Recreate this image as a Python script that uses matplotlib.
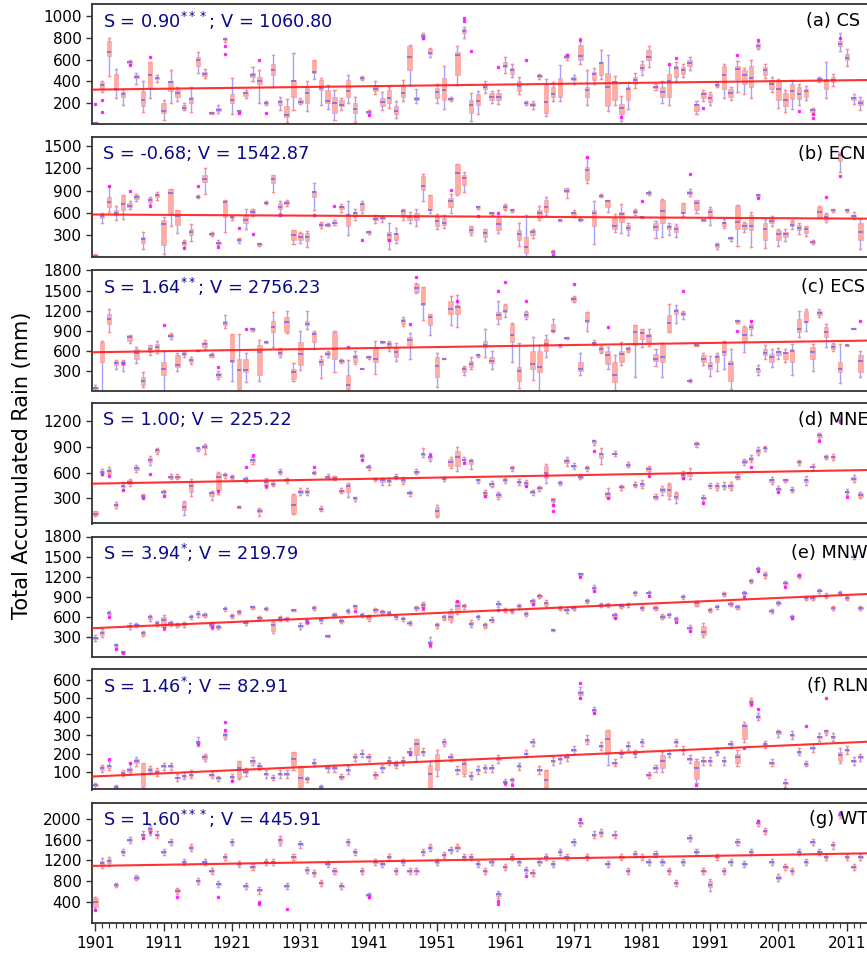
import numpy as np
import matplotlib
matplotlib.use("Agg")
import matplotlib.pyplot as plt

years = list(range(1901, 2014))

# yearly box summaries: (whisker low, q1, median, q3, whisker high)
cs_boxes = [
    (10,15,20,25,30),(300,330,370,390,400),(450,630,670,770,800),(250,320,330,470,510),(180,260,280,300,330),
    (560,570,580,590,600),(380,430,440,460,480),(120,170,230,310,400),(250,340,460,580,580),(390,420,430,440,460),
    (50,110,130,200,230),(200,310,390,400,500),(220,260,290,320,350),(140,150,160,180,200),(120,200,240,260,350),
    (480,540,600,620,670),(430,450,470,490,510),(100,105,110,115,120),(110,130,140,160,180),(760,780,785,790,800),
    (100,200,230,280,430),(120,125,130,135,140),(250,270,290,300,320),(400,440,460,480,530),(200,380,400,440,500),
    (180,190,200,210,220),(350,460,500,560,640),(140,180,210,230,260),(30,70,90,170,240),(140,260,400,410,660),
    (190,200,210,230,250),(130,200,290,340,400),(420,480,490,600,600),(180,320,340,410,430),(150,200,220,320,370),
    (50,110,200,260,320),(140,170,180,230,250),(200,260,310,410,460),(30,110,150,200,260),(410,420,430,440,450),
    (100,110,120,130,140),(280,310,330,370,400),(140,170,210,250,300),(160,200,250,320,350),(60,100,130,170,220),
    (220,260,290,370,410),(370,500,620,720,730),(200,230,240,260,330),(790,810,820,830,840),(620,650,660,700,710),
    (200,250,300,340,380),(150,230,320,430,540),(220,230,240,250,260),(370,460,640,670,720),(800,840,860,880,900),
    (40,110,180,230,290),(100,180,220,280,310),(290,330,350,380,400),(200,230,260,290,310),(190,230,260,290,320),
    (480,530,540,580,620),(440,470,500,520,560),(280,310,360,400,440),(180,190,200,210,220),(150,170,180,200,220),
    (420,440,450,460,470),(80,110,210,370,420),(220,260,280,350,390),(220,260,380,430,550),(600,610,620,640,650),
    (380,410,420,440,460),(560,600,630,730,800),(180,260,320,350,500),(380,410,470,490,520),(420,460,570,580,690),
    (130,170,350,480,640),(180,230,390,400,450),(40,100,160,190,270),(150,230,330,350,390),(340,380,410,440,480),
    (460,500,520,560,590),(530,600,620,690,720),(320,340,350,360,380),(200,260,300,350,400),(180,260,400,470,550),
    (400,440,520,540,580),(440,470,500,530,560),(500,540,570,600,620),(100,130,180,190,220),(220,250,280,300,320),
    (180,210,250,280,300),(350,360,370,380,390),(250,330,460,540,560),(230,260,290,330,350),(300,420,510,540,590),
    (280,380,460,500,520),(250,350,430,540,600),(700,710,725,740,760),(430,460,500,530,560),(300,330,380,410,440),
    (160,230,330,400,420),(120,170,230,290,320),(150,240,310,380,410),(180,240,280,350,380),(230,260,310,330,360),
    (100,120,135,150,160),(390,410,420,430,440),(250,330,400,420,580),(360,390,410,440,470),(680,720,740,770,840),
    (540,600,610,650,700),(190,230,245,260,280),(140,180,200,230,260),
]
ecn_boxes = [
    (10,20,30,40,50),(470,530,560,570,600),(620,680,750,820,960),(500,570,600,640,700),(520,640,720,840,840),
    (650,680,700,730,760),(760,790,810,840,860),(120,200,250,280,350),(720,750,770,800,820),(780,820,840,860,880),
    (50,170,450,500,550),(420,600,870,920,920),(330,440,560,640,640),(140,170,200,220,240),(220,300,350,390,450),
    (800,810,820,830,840),(860,1020,1060,1110,1200),(290,310,320,330,350),(170,190,200,210,240),(350,550,750,770,780),
    (500,530,540,550,560),(200,230,240,250,270),(380,460,500,570,650),(560,600,620,640,650),(160,175,180,190,200),
    (720,730,740,750,760),(880,1000,1050,1110,1110),(600,660,680,730,760),(700,720,740,760,780),(180,240,300,370,370),
    (200,240,280,330,340),(150,220,280,330,360),(640,820,880,900,1000),(400,420,440,460,480),(420,430,440,450,460),
    (440,460,470,480,500),(620,660,680,700,720),(300,420,580,590,760),(500,550,600,620,650),(600,640,720,740,760),
    (320,330,340,350,360),(460,500,520,550,570),(480,520,530,540,560),(120,220,300,350,470),(200,240,320,330,400),
    (500,550,630,660,660),(460,500,540,570,610),(420,500,550,600,660),(760,910,960,1090,1120),(600,640,640,840,840),
    (380,420,490,550,590),(400,440,460,530,580),(600,680,760,800,860),(840,860,1130,1260,1260),(880,970,1070,1110,1150),
    (300,330,370,420,430),(660,670,680,690,700),(230,280,330,380,390),(580,590,600,610,620),(330,370,450,530,560),
    (640,660,680,710,720),(620,630,640,650,660),(160,240,320,370,470),(20,60,150,280,580),(260,300,350,370,390),
    (500,530,600,640,700),(570,620,680,770,820),(60,70,80,90,110),(490,495,500,505,510),(800,880,900,930,940),
    (540,570,600,620,640),(490,500,510,520,530),(1000,1040,1180,1220,1330),(180,420,600,640,760),(810,820,830,840,850),
    (620,680,760,770,770),(340,390,420,530,590),(330,480,590,620,720),(310,370,400,440,470),(580,600,620,640,650),
    (530,535,540,545,550),(840,860,870,880,890),(260,370,410,460,490),(280,460,630,770,790),(310,390,410,440,460),
    (280,350,390,420,450),(560,600,600,730,730),(830,850,870,890,920),(600,640,730,770,780),(490,495,500,505,510),
    (440,550,620,660,680),(120,140,170,180,200),(400,420,470,480,520),(230,250,260,270,280),(160,390,480,700,710),
    (340,390,420,460,480),(140,370,430,570,610),(820,830,840,850,860),(130,240,380,460,520),(420,460,490,530,560),
    (160,240,320,370,380),(230,280,320,350,380),(380,420,440,490,500),(320,370,400,440,460),(290,330,380,420,430),
    (180,200,210,220,240),(540,550,610,680,700),(480,510,540,590,600),(620,630,640,650,660),(1150,1290,1370,1400,1420),
    (610,630,640,650,660),(520,550,560,580,620),(120,240,350,460,520),
]
ecs_boxes = [
    (10,20,40,60,80),(0,430,580,730,740),(880,1000,1080,1150,1230),(330,380,420,450,460),(290,380,420,450,460),
    (720,750,800,830,840),(420,480,560,630,660),(60,80,150,210,280),(540,580,620,680,690),(560,600,650,700,740),
    (0,230,330,430,600),(780,800,820,850,870),(300,350,380,530,560),(510,530,550,580,590),(400,430,460,480,500),
    (590,595,600,605,610),(620,650,700,730,760),(500,510,530,540,560),(170,210,240,260,290),(940,980,1010,1050,1130),
    (140,430,440,850,850),(0,30,310,480,850),(130,280,310,480,560),(900,910,920,930,940),(150,230,580,680,760),
    (710,720,730,740,750),(650,880,960,1050,1180),(500,530,570,630,640),(860,880,1030,1100,1200),(150,180,280,330,420),
    (310,380,550,730,890),(920,980,1000,1050,1200),(620,730,850,880,890),(190,380,430,480,520),(500,530,550,580,600),
    (280,480,620,880,890),(420,430,450,460,480),(10,30,80,230,460),(400,430,500,530,600),(320,325,330,335,340),
    (480,490,500,510,520),(250,430,480,650,740),(710,720,730,740,750),(600,650,700,730,740),(440,500,580,650,720),
    (970,1000,1040,1080,1100),(480,680,760,800,870),(1460,1480,1540,1600,1620),(1060,1280,1300,1550,1550),(830,980,1110,1150,1150),
    (50,210,370,500,560),(470,475,480,485,490),(980,1150,1230,1350,1420),(960,1150,1250,1280,1430),(230,280,320,350,370),
    (330,350,400,450,510),(510,520,530,540,550),(500,650,680,750,920),(330,410,450,500,600),(1000,1080,1130,1180,1350),
    (1100,1180,1200,1280,1300),(430,730,830,1000,1010),(40,150,290,350,720),(1080,1100,1130,1180,1200),(160,330,400,600,800),
    (10,280,360,600,680),(500,600,700,780,830),(880,890,900,1000,1080),(660,670,680,690,700),(770,780,790,800,810),
    (1330,1350,1380,1400,1420),(240,300,330,430,570),(900,1030,1040,1180,1180),(680,690,720,730,760),(560,580,620,650,670),
    (330,400,530,600,650),(10,130,230,430,530),(380,430,550,600,730),(580,600,620,650,660),(200,680,880,980,980),
    (650,780,870,930,930),(670,730,820,850,930),(370,450,470,550,620),(200,430,500,680,720),(880,880,1010,1130,1300),
    (1020,1150,1190,1230,1280),(1080,1130,1150,1180,1200),(130,140,150,160,170),(670,675,680,685,690),(380,430,480,530,560),
    (220,330,370,430,520),(300,430,500,530,560),(330,530,580,730,750),(20,150,400,450,630),(1020,1030,1040,1050,1060),
    (580,750,830,950,970),(840,920,950,1000,1040),(240,280,320,330,390),(480,530,560,630,680),(350,430,500,550,620),
    (470,530,580,600,640),(430,480,560,580,620),(240,430,600,630,700),(800,880,920,1080,1200),(900,1030,1030,1200,1220),
    (300,480,580,650,700),(1100,1130,1160,1200,1230),(650,800,880,950,1000),(600,630,650,700,720),(120,280,330,430,700),
    (670,675,680,685,690),(920,925,930,935,940),(200,280,450,530,600),
]
mne_boxes = [
    (100,110,125,150,160),(570,590,610,620,640),(580,600,620,640,660),(190,210,230,240,260),(410,430,450,460,490),
    (450,470,490,510,530),(610,630,650,670,690),(310,320,330,340,350),(690,720,740,770,790),(820,840,860,870,880),
    (340,360,380,390,400),(520,540,550,560,580),(520,540,550,560,580),(110,170,200,260,270),(330,380,450,500,520),
    (850,860,880,890,900),(820,880,900,920,930),(280,330,360,370,390),(350,400,550,600,610),(540,560,570,580,590),
    (520,540,550,560,570),(185,190,200,205,210),(490,500,520,530,550),(700,720,740,760,780),(100,140,160,180,190),
    (420,450,490,520,540),(440,460,470,480,500),(580,600,610,620,640),(480,500,510,520,540),(120,130,220,340,350),
    (340,360,380,400,420),(340,360,380,400,420),(580,590,600,610,620),(150,170,180,190,210),(520,540,550,560,580),
    (510,530,540,550,560),(360,380,390,400,420),(320,380,450,470,480),(270,290,300,310,320),(760,780,790,800,820),
    (630,650,660,670,690),(500,510,520,530,540),(460,490,510,520,540),(460,490,500,510,540),(520,540,550,560,580),
    (470,490,510,520,550),(330,350,360,370,390),(580,600,610,620,640),(780,800,810,820,880),(730,760,780,790,830),
    (80,100,150,200,220),(500,520,530,540,550),(650,680,720,760,780),(620,680,780,850,900),(720,740,750,760,780),
    (640,700,730,740,760),(480,500,510,520,530),(320,340,360,370,400),(430,450,470,480,500),(290,320,340,360,380),
    (480,500,510,520,540),(620,640,650,660,680),(460,480,490,500,520),(450,470,480,490,510),(340,360,370,380,400),
    (390,410,420,430,450),(480,540,600,680,700),(210,260,280,300,310),(460,470,480,490,500),(680,710,730,760,780),
    (640,660,680,690,710),(520,540,550,560,580),(620,640,650,660,680),(920,940,960,970,980),(700,770,810,830,880),
    (300,320,350,380,420),(790,810,820,830,850),(400,420,430,440,460),(660,680,690,700,720),(430,450,460,470,490),
    (420,440,470,480,510),(600,620,640,660,680),(290,310,320,330,350),(340,380,400,420,440),(290,330,400,470,480),
    (250,290,320,360,380),(520,550,570,590,620),(520,560,590,610,650),(900,920,930,940,950),(270,290,310,320,340),
    (420,440,450,460,480),(400,420,440,460,480),(410,430,450,460,490),(400,420,450,470,490),(520,540,550,560,580),
    (690,710,720,740,760),(720,740,760,780,800),(800,830,850,870,900),(850,870,880,890,910),(470,490,510,520,550),
    (380,400,410,420,440),(490,500,510,520,530),(370,390,400,410,430),(690,710,720,730,750),(460,490,510,530,560),
    (630,660,670,680,700),(990,1010,1030,1040,1060),(760,770,780,790,800),(750,770,780,790,820),(1180,1200,1210,1220,1240),
    (340,360,380,390,410),(490,510,530,550,570),(300,320,340,360,380),
]
mnw_boxes = [
    (240,260,280,300,320),(300,330,350,380,420),(620,640,650,660,680),(140,160,170,180,190),(50,60,70,80,90),
    (420,440,460,480,500),(450,470,480,490,510),(310,330,350,370,390),(540,570,590,610,630),(460,480,500,510,530),
    (400,450,550,600,620),(460,480,500,510,530),(440,460,480,490,510),(450,470,490,500,520),(570,590,600,610,630),
    (600,620,640,660,680),(590,610,630,640,660),(420,450,480,500,520),(410,430,440,450,470),(690,710,720,730,740),
    (580,600,610,620,640),(640,660,670,680,700),(480,500,510,520,540),(720,730,740,750,760),(550,570,580,590,610),
    (700,710,720,730,740),(350,380,480,520,540),(540,560,580,590,610),(530,560,570,580,600),(680,690,700,710,720),
    (420,440,460,480,500),(490,510,530,540,560),(700,720,730,740,760),(510,530,550,560,580),(290,300,310,320,330),
    (590,610,620,630,650),(500,520,530,540,560),(650,670,680,690,710),(730,750,760,770,780),(590,610,620,630,650),
    (540,570,590,610,630),(670,690,700,710,730),(640,660,670,680,700),(620,640,650,660,680),(560,590,600,610,630),
    (540,560,570,580,600),(470,490,500,510,530),(700,720,730,740,760),(700,740,780,800,820),(150,190,210,240,300),
    (430,460,470,490,510),(550,570,590,600,630),(520,550,600,690,720),(640,680,760,830,840),(720,740,760,770,790),
    (440,470,490,520,550),(570,590,600,610,630),(430,450,470,490,510),(520,540,550,570,590),(740,770,790,810,840),
    (670,690,700,710,730),(650,670,680,690,710),(720,740,760,770,790),(610,630,640,650,670),(780,810,830,850,870),
    (880,900,910,920,940),(760,780,800,820,850),(380,390,400,410,420),(700,720,730,740,760),(660,680,700,720,740),
    (700,720,730,740,760),(1210,1230,1240,1250,1260),(800,820,840,850,870),(990,1010,1030,1050,1080),(740,760,770,780,800),
    (740,760,770,780,800),(580,600,620,640,660),(730,750,760,770,790),(750,770,780,790,810),(930,950,960,970,980),
    (700,720,730,740,760),(920,950,960,970,980),(700,720,730,740,760),(560,580,600,620,640),(600,620,630,640,660),
    (530,550,560,580,600),(870,890,900,910,930),(380,410,430,450,470),(760,780,800,820,840),(290,320,370,460,500),
    (670,690,700,710,730),(720,740,750,760,780),(910,930,940,950,970),(760,780,790,800,820),(710,730,740,750,770),
    (920,940,950,960,980),(1100,1120,1130,1150,1170),(1290,1310,1320,1330,1350),(1180,1210,1230,1250,1270),(650,670,680,690,710),
    (770,790,800,810,830),(1070,1090,1100,1110,1130),(570,590,600,610,630),(1180,1200,1210,1220,1240),(850,870,880,890,910),
    (850,870,880,890,910),(960,980,990,1000,1020),(880,890,910,930,950),(700,720,730,740,760),(920,940,950,960,980),
    (850,870,880,890,910),(1470,1490,1500,1510,1530),(700,720,730,740,760),
]
rln_boxes = [
    (15,22,28,32,40),(100,110,120,130,140),(110,120,130,140,160),(10,15,20,25,30),(80,90,95,100,110),
    (90,100,110,120,150),(130,150,160,170,180),(10,20,90,150,150),(90,100,110,120,130),(80,95,100,110,120),
    (110,125,130,135,150),(110,125,130,135,150),(50,65,70,75,90),(60,75,80,85,100),(65,80,85,90,110),
    (240,255,265,270,290),(160,170,180,190,200),(70,80,85,90,100),(50,60,65,70,80),(280,290,300,310,320),
    (55,70,75,80,90),(60,70,120,160,160),(80,95,100,110,120),(140,150,160,165,180),(110,125,130,135,150),
    (70,85,90,95,110),(55,65,70,75,85),(70,85,90,95,110),(70,85,90,95,110),(110,130,170,210,210),
    (10,20,65,130,130),(45,55,60,65,75),(130,145,150,155,170),(10,15,20,25,30),(100,115,120,125,140),
    (100,115,120,125,140),(60,70,75,80,90),(90,105,110,115,130),(160,175,180,185,200),(180,195,200,205,220),
    (160,175,180,185,200),(65,80,85,90,100),(100,115,120,125,140),(140,155,160,165,180),(120,135,140,145,160),
    (140,155,160,165,180),(190,205,210,215,230),(160,190,250,280,280),(190,205,210,215,230),(0,10,90,140,160),
    (80,110,160,200,220),(240,250,260,270,280),(160,175,180,185,200),(90,105,110,115,130),(80,90,145,160,170),
    (60,75,80,85,100),(90,105,110,115,130),(100,115,120,125,140),(100,115,120,125,140),(150,165,170,175,190),
    (30,40,45,50,60),(40,50,55,60,70),(110,125,130,135,150),(180,195,200,205,220),(240,255,260,265,280),
    (90,105,110,115,130),(20,20,55,110,110),(140,155,160,165,180),(150,165,170,175,190),(160,175,180,185,200),
    (200,215,220,225,240),(500,515,530,540,560),(250,265,275,280,300),(420,430,435,440,450),(220,235,240,245,260),
    (140,200,280,330,330),(130,145,150,155,170),(180,195,200,205,220),(220,235,240,245,260),(180,195,200,205,220),
    (240,255,260,265,280),(70,80,85,90,100),(100,115,120,125,140),(100,120,160,190,210),(180,195,200,205,220),
    (240,255,265,270,280),(200,215,220,225,240),(150,165,170,175,190),(40,60,120,160,170),(140,155,160,165,180),
    (140,155,160,165,180),(190,205,210,215,230),(140,155,160,165,180),(230,245,250,255,270),(130,150,180,200,220),
    (260,280,350,360,370),(460,470,480,490,500),(380,390,400,410,420),(230,245,250,255,270),(130,145,150,155,170),
    (290,305,315,320,330),(20,35,40,45,60),(280,295,300,305,320),(190,205,210,215,230),(130,140,145,150,160),
    (210,225,230,235,250),(270,285,290,295,310),(300,310,320,325,330),(270,285,290,295,310),(150,160,190,210,230),
    (200,215,220,225,240),(140,155,160,165,180),(160,175,180,185,200),
]
wt_boxes = [
    (260,300,400,480,500),(1050,1120,1150,1180,1250),(1100,1150,1180,1220,1260),(680,700,720,740,760),(1300,1340,1360,1380,1420),
    (1530,1570,1590,1610,1650),(830,850,870,890,910),(1640,1680,1700,1720,1760),(1700,1760,1800,1840,1880),(1640,1680,1700,1720,1760),
    (1300,1340,1360,1380,1420),(1490,1530,1550,1570,1610),(560,590,610,640,660),(1110,1150,1170,1190,1230),(1390,1430,1450,1470,1510),
    (740,780,800,820,860),(1110,1150,1170,1190,1230),(930,970,990,1010,1050),(680,720,740,760,800),(1210,1250,1270,1290,1330),
    (1490,1530,1550,1570,1610),(1070,1110,1130,1150,1190),(640,680,700,720,760),(1020,1060,1080,1100,1140),(560,600,620,640,680),
    (1110,1150,1170,1190,1230),(1110,1150,1170,1190,1230),(1500,1540,1600,1640,1680),(640,680,700,720,760),(1210,1250,1270,1290,1330),
    (1450,1490,1510,1530,1570),(960,1000,1020,1040,1080),(890,930,950,970,1010),(700,740,760,780,820),(1070,1110,1130,1150,1190),
    (930,970,990,1010,1050),(640,680,700,720,760),(1490,1530,1550,1570,1610),(1300,1340,1360,1380,1420),(930,970,990,1010,1050),
    (480,510,530,560,580),(1110,1150,1170,1190,1230),(1070,1110,1130,1150,1190),(1210,1250,1270,1290,1330),(930,970,990,1010,1050),
    (1110,1150,1170,1190,1230),(930,970,990,1010,1050),(930,970,990,1010,1050),(1300,1340,1360,1380,1420),(1390,1430,1450,1470,1510),
    (1110,1150,1170,1190,1230),(1240,1280,1300,1320,1360),(1340,1380,1400,1420,1460),(1390,1430,1450,1470,1510),(1210,1250,1270,1290,1330),
    (1210,1250,1270,1290,1330),(1070,1110,1130,1150,1190),(930,970,990,1010,1050),(1110,1150,1170,1190,1230),(480,520,550,580,600),
    (1020,1060,1080,1100,1140),(1210,1250,1270,1290,1330),(1110,1150,1170,1190,1230),(960,1000,1020,1040,1080),(890,930,950,970,1010),
    (1110,1150,1170,1190,1230),(1210,1250,1270,1290,1330),(1070,1110,1130,1150,1190),(1300,1340,1360,1380,1420),(1210,1250,1270,1290,1330),
    (1490,1530,1550,1570,1610),(1860,1900,1920,1940,1980),(1210,1250,1270,1290,1330),(1640,1680,1700,1720,1760),(1680,1720,1740,1760,1800),
    (1070,1110,1130,1150,1190),(1640,1680,1700,1720,1760),(1210,1250,1270,1290,1330),(930,970,990,1010,1050),(1260,1300,1320,1340,1380),
    (1210,1250,1270,1290,1330),(1110,1150,1170,1190,1230),(1260,1300,1320,1340,1380),(1110,1150,1170,1190,1230),(930,970,990,1010,1050),
    (700,740,760,780,820),(1110,1150,1170,1190,1230),(1580,1620,1640,1660,1700),(1300,1340,1360,1380,1420),(930,970,990,1010,1050),
    (600,680,720,800,850),(1210,1250,1270,1290,1330),(930,970,990,1010,1050),(1110,1150,1170,1190,1230),(1490,1530,1550,1570,1610),
    (1070,1110,1130,1150,1190),(1300,1340,1360,1380,1420),(1860,1900,1920,1940,1980),(1710,1750,1770,1790,1830),(1110,1150,1170,1190,1230),
    (800,840,870,890,930),(1020,1060,1080,1100,1140),(930,970,990,1010,1050),(1300,1340,1360,1380,1420),(1110,1150,1170,1190,1230),
    (1490,1530,1550,1570,1610),(1300,1340,1360,1380,1420),(1210,1250,1270,1290,1330),(1430,1470,1490,1510,1550),(2020,2060,2080,2100,2140),
    (1210,1250,1270,1290,1330),(1020,1060,1080,1100,1140),(1210,1250,1270,1290,1330),
]

# outliers (year, value)
cs_fliers = [(1901,190),(1902,230),(1902,120),(1906,550),(1909,620),(1920,720),(1920,650),(1922,110),(1925,600),
             (1926,110),(1941,90),(1949,800),(1955,950),(1955,980),(1956,680),(1960,530),(1964,600),(1970,640),
             (1972,780),(1978,70),(1985,560),(1986,610),(1990,160),(1995,640),(1998,780),(2004,130),(2006,100),
             (2006,60),(2010,800)]
ecn_fliers = [(1903,960),(1906,900),(1909,700),(1914,130),(1916,960),(1919,150),(1922,400),(1924,320),(1928,570),
              (1933,580),(1936,700),(1940,240),(1944,240),(1953,910),(1957,560),(1960,600),(1968,40),(1973,1350),
              (1981,760),(1988,1120),(1998,800),(2008,810),(2010,1100)]
ecs_fliers = [(1905,420),(1911,980),(1919,350),(1923,930),(1938,650),(1947,1000),(1948,1700),(1954,1350),(1960,1500),
              (1961,1630),(1964,1350),(1971,1600),(1976,950),(1987,1500),(1995,900),(1997,1050),(2013,1050)]
mne_fliers = [(1902,580),(1903,560),(1905,400),(1908,310),(1909,580),(1911,330),(1919,390),(1923,660),(1924,800),
              (1926,450),(1933,670),(1940,750),(1950,800),(1955,710),(1958,330),(1964,440),(1967,570),(1968,230),
              (1968,150),(1974,850),(1976,310),(1982,560),(1987,540),(1990,250),(1997,660),(2001,380),(2007,960),
              (2010,1180),(2011,320)]
mnw_fliers = [(1903,600),(1904,120),(1905,50),(1911,430),(1918,440),(1932,520),(1939,690),(1949,730),(1950,180),
              (1954,830),(1960,700),(1965,790),(1972,1200),(1974,980),(1977,580),(1982,910),(1986,520),(1988,380),
              (1996,890),(1998,1280),(2002,1050),(2003,580),(2004,1230)]
rln_fliers = [(1903,170),(1906,150),(1916,250),(1920,370),(1920,330),(1921,50),(1934,10),(1947,200),(1961,40),
              (1962,30),(1972,580),(1972,500),(1974,420),(1989,30),(1996,230),(1997,470),(1998,440),(2002,10),
              (2005,350),(2008,500)]
wt_fliers = [(1901,250),(1908,1640),(1909,1750),(1913,500),(1919,500),(1925,400),(1925,350),(1929,270),(1941,500),
             (1960,350),(1960,420),(1964,900),(1972,2000),(1998,1960),(2010,2120)]

# trend line values at 1901 and 2013
trend_start = [325, 580, 578, 472, 430, 76, 1095]
trend_end = [412, 525, 750, 628, 935, 262, 1335]

stat_text = ["S = 0.90$^{***}$; V = 1060.80", "S = -0.68; V = 1542.87", "S = 1.64$^{**}$; V = 2756.23",
             "S = 1.00; V = 225.22", "S = 3.94$^{*}$; V = 219.79", "S = 1.46$^{*}$; V = 82.91",
             "S = 1.60$^{***}$; V = 445.91"]
panel_names = ["(a) CS", "(b) ECN", "(c) ECS", "(d) MNE", "(e) MNW", "(f) RLN", "(g) WT"]
yticks = [[200, 400, 600, 800, 1000], [300, 600, 900, 1200, 1500], [300, 600, 900, 1200, 1500, 1800],
          [300, 600, 900, 1200], [300, 600, 900, 1200, 1500, 1800], [100, 200, 300, 400, 500, 600],
          [400, 800, 1200, 1600, 2000]]
ylims = [(5, 1105), (5, 1610), (5, 1800), (10, 1400), (5, 1800), (5, 655), (0, 2320)]
name_x = [0.909, 0.899, 0.902, 0.899, 0.890, 0.910, 0.913]

all_boxes = [cs_boxes, ecn_boxes, ecs_boxes, mne_boxes, mnw_boxes, rln_boxes, wt_boxes]
all_fliers = [cs_fliers, ecn_fliers, ecs_fliers, mne_fliers, mnw_fliers, rln_fliers, wt_fliers]

W, H = 867, 955
fig = plt.figure(figsize=(W / 100, H / 100), dpi=100)
left_px, width_px = 92, 785.5
tops = [4.5, 137.5, 270.5, 403.5, 536.5, 669.5, 802.5]
h_px = 120

for i in range(7):
    ax = fig.add_axes([left_px / W, 1 - (tops[i] + h_px) / H, width_px / W, h_px / H])
    fl = {}
    for yr, v in all_fliers[i]:
        fl.setdefault(yr, []).append(v)
    stats = []
    for yr, (lo, q1, med, q3, hi) in zip(years, all_boxes[i]):
        stats.append(dict(whislo=lo, q1=q1, med=med, q3=q3, whishi=hi, fliers=fl.get(yr, [])))
    ax.bxp(stats, positions=years, widths=0.65, patch_artist=True, manage_ticks=False,
           capwidths=0.3,
           boxprops=dict(facecolor="#ffaca4", edgecolor="#ffaca4", linewidth=0.6),
           whiskerprops=dict(color="#a3a3ff", linewidth=1.0),
           capprops=dict(color="#ff8f8f", linewidth=1.0),
           medianprops=dict(color="#7b6cf0", linewidth=1.2),
           flierprops=dict(marker="s", markersize=1.8, markerfacecolor="#ff00ff",
                           markeredgecolor="#ff00ff", alpha=0.75))
    slope = (trend_end[i] - trend_start[i]) / (2013 - 1901)
    tx = np.array([1900.5, 2015.5])
    ax.plot(tx, trend_start[i] + slope * (tx - 1901), color="#ff1a1a", lw=1.5, alpha=0.9, zorder=4)

    ax.set_xlim(1900.5, 2015.5)
    ax.set_ylim(*ylims[i])
    ax.set_yticks(yticks[i])
    ax.tick_params(axis="y", labelsize=11, length=4, width=1, color="#333333")
    for s in ax.spines.values():
        s.set_color("#333333")
        s.set_linewidth(1.3)
    ax.text(0.014, 0.865, stat_text[i], transform=ax.transAxes, fontsize=12.8,
            color="#0b0b8a", va="center", ha="left")
    ax.text(name_x[i], 0.865, panel_names[i], transform=ax.transAxes, fontsize=12.8,
            color="black", va="center", ha="left")
    if i < 6:
        ax.set_xticks([])
    else:
        ax.set_xticks(list(range(1901, 2016, 10)))
        ax.set_xticks(years, minor=True)
        ax.tick_params(axis="x", which="major", labelsize=11, length=6, width=1, color="#333333")
        ax.tick_params(axis="x", which="minor", length=3.5, width=0.8, color="#333333")

fig.text(22 / W, 1 - 465 / H, "Total Accumulated Rain (mm)", rotation=90, fontsize=15,
         va="center", ha="center")

fig.savefig("out.png", dpi=100)
